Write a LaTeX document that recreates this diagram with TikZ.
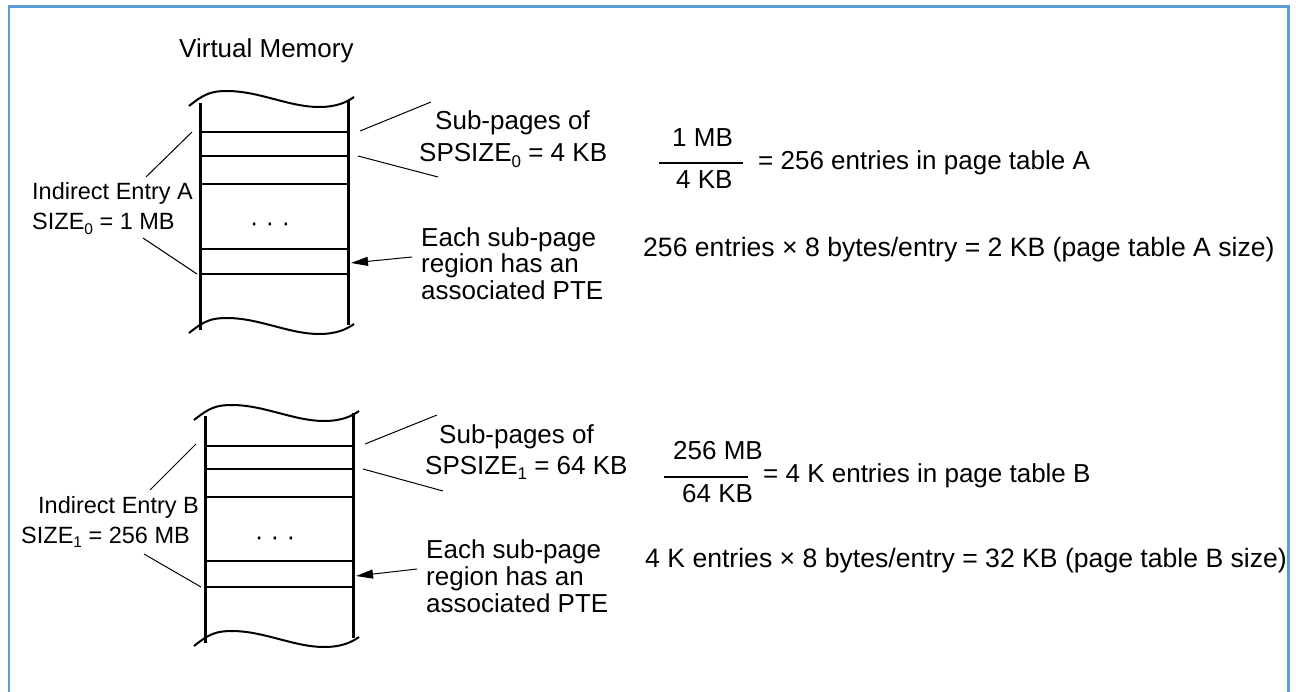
\documentclass[tikz,border=0pt]{standalone}
\usepackage{fontspec}
\setmainfont{Liberation Sans}
\usetikzlibrary{arrows.meta}
\newcommand\mysub[1]{\raisebox{-0.2em}{\fontsize{17}{17}\selectfont #1}}
\newcommand\mysubs[1]{\raisebox{-0.2em}{\fontsize{15.5}{15.5}\selectfont #1}}
\definecolor{framecol}{HTML}{5B9BD5}
\begin{document}
\begin{tikzpicture}[x=1pt,y=-1pt,
  txt/.style={inner sep=0pt, anchor=base west, font=\fontsize{26}{26.5}\selectfont},
  sidetxt/.style={txt, font=\fontsize{23.5}{24}\selectfont},
  calctxt/.style={txt, font=\fontsize{26.6}{27}\selectfont},
  memside/.style={line width=3pt},
  thickrule/.style={line width=2.6pt},
  thinrule/.style={line width=1.7pt},
  leader/.style={line width=1pt},
  wavy/.style={line width=2pt},
  fracbar/.style={line width=2pt},
  ptr/.style={line width=1pt, -{Triangle[length=17pt,width=9pt]}},
  frameline/.style={draw=framecol, line width=2.5pt},
  edgewave/.pic={\draw[wavy] (0,0) .. controls (15,-12) and (22,-15) .. (38,-15)
      .. controls (70,-15) and (100,1) .. (130,1)
      .. controls (148,1) and (158,-4) .. (165,-9);}]
\useasboundingbox (0,0) rectangle (1296,692);

% frame
\draw[frameline] (9,692) -- (9,6.7) -- (1288.3,6.7) -- (1288.3,692);

% ---------- block A ----------
\node[txt] (vm) at (179,58) {Virtual Memory};
\pic at (189,106) {edgewave};
\pic at (189,333) {edgewave};
\draw[memside] (200,103) -- (200,330);
\draw[memside] (348,100) -- (348,325);
\draw[thickrule] (200,132) -- (348,132);
\draw[thinrule] (200,156) -- (348,156);
\draw[thinrule] (200,184) -- (348,184);
\draw[thinrule] (200,249) -- (348,249);
\draw[thickrule] (200,274) -- (348,274);
\node[txt, anchor=base] (dotsA) at (270,232) {· · ·};

\node[sidetxt] (ieA) at (32,200) {Indirect Entry A};
\node[sidetxt] (sizeA) at (32,230) {SIZE\mysubs{0} = 1 MB};
\coordinate (ieAup) at (146,177);
\coordinate (blkAup) at (192,132);
\coordinate (ieAdn) at (143,238);
\coordinate (blkAdn) at (197,274);
\draw[leader] (ieAup) -- (blkAup);
\draw[leader] (ieAdn) -- (blkAdn);

\node[txt] (spA) at (435,130) {Sub-pages of};
\node[txt] (spsA) at (419,162) {SPSIZE\mysub{0} = 4 KB};
\coordinate (spAup1) at (360,131);
\coordinate (spAup2) at (431,102);
\coordinate (spAdn1) at (358,156);
\coordinate (spAdn2) at (438,177);
\draw[leader] (spAup1) -- (spAup2);
\draw[leader] (spAdn1) -- (spAdn2);

\node[txt] (numA) at (672,147) {1 MB};
\node[txt] (denA) at (676,189) {4 KB};
\coordinate (barAl) at (659,163);
\coordinate (barAr) at (743,163);
\draw[fracbar] (barAl) -- (barAr);
\node[txt] (resA) at (758,170) {= 256 entries in page table A};

\node[txt] (eachA1) at (421,247) {Each sub-page};
\node[txt] (eachA2) at (421,273) {region has an};
\node[txt] (eachA3) at (421,300) {associated PTE};
\coordinate (arrAfrom) at (412,257);
\coordinate (arrAto) at (351,263);
\draw[ptr] (arrAfrom) -- (arrAto);
\node[calctxt] (calcA) at (643,257) {256 entries × 8 bytes/entry = 2 KB (page table A size)};

% ---------- block B ----------
\pic at (194,420) {edgewave};
\pic at (194,646) {edgewave};
\draw[memside] (205,416) -- (205,643);
\draw[memside] (353,413) -- (353,638);
\draw[thickrule] (205,446) -- (353,446);
\draw[thinrule] (205,469) -- (353,469);
\draw[thinrule] (205,497) -- (353,497);
\draw[thinrule] (205,561) -- (353,561);
\draw[thickrule] (205,587) -- (353,587);
\node[txt, anchor=base] (dotsB) at (275,545) {· · ·};

\node[sidetxt] (ieB) at (38,513) {Indirect Entry B};
\node[sidetxt] (sizeB) at (21,543) {SIZE\mysubs{1} = 256 MB};
\coordinate (ieBup) at (150,490);
\coordinate (blkBup) at (196,444);
\coordinate (ieBdn) at (144,554);
\coordinate (blkBdn) at (201,587);
\draw[leader] (ieBup) -- (blkBup);
\draw[leader] (ieBdn) -- (blkBdn);

\node[txt] (spB) at (439,443) {Sub-pages of};
\node[txt] (spsB) at (425,474) {SPSIZE\mysub{1} = 64 KB};
\coordinate (spBup1) at (365,444);
\coordinate (spBup2) at (437,415);
\coordinate (spBdn1) at (363,469);
\coordinate (spBdn2) at (443,491);
\draw[leader] (spBup1) -- (spBup2);
\draw[leader] (spBdn1) -- (spBdn2);

\node[txt] (numB) at (673,460) {256 MB};
\node[txt] (denB) at (682,502) {64 KB};
\coordinate (barBl) at (664,477);
\coordinate (barBr) at (748,477);
\draw[fracbar] (barBl) -- (barBr);
\node[txt] (resB) at (763,482) {= 4 K entries in page table B};

\node[txt] (eachB1) at (426,558) {Each sub-page};
\node[txt] (eachB2) at (426,585) {region has an};
\node[txt] (eachB3) at (426,612) {associated PTE};
\coordinate (arrBfrom) at (417,569);
\coordinate (arrBto) at (356,576);
\draw[ptr] (arrBfrom) -- (arrBto);
\node[calctxt] (calcB) at (645,567) {4 K entries × 8 bytes/entry = 32 KB (page table B size)};
\end{tikzpicture}
\end{document}
